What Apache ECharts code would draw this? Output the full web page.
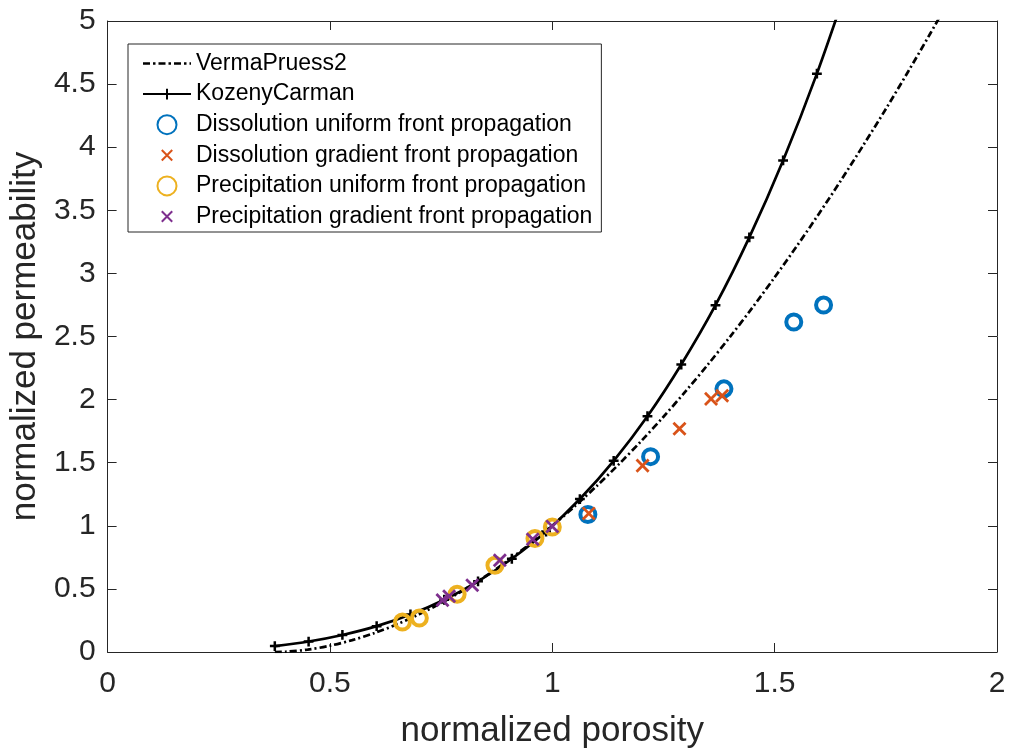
<!DOCTYPE html>
<html><head><meta charset="utf-8">
<script src="https://cdn.jsdelivr.net/npm/echarts@6/dist/echarts.min.js"></script>
<style>html,body{margin:0;padding:0;background:#fff}#c{width:1011px;height:754px}</style>
</head><body><div id="c"></div>
<script>
// ---- data ----
const xTicks = ['0', '0.5', '1', '1.5', '2'];
const yTicks = ['0', '0.5', '1', '1.5', '2', '2.5', '3', '3.5', '4', '4.5', '5'];

const vpPorosity = [0.376, 0.40, 0.45, 0.50, 0.55, 0.60, 0.65, 0.70, 0.75, 0.80, 0.85, 0.90, 0.95, 1.00, 1.05, 1.10, 1.15, 1.20, 1.25, 1.30, 1.35, 1.40, 1.45, 1.50, 1.55, 1.60, 1.65, 1.70, 1.75, 1.80, 1.85, 1.90];
const vpPerm     = [0.000, 0.002, 0.019, 0.050, 0.094, 0.150, 0.218, 0.298, 0.388, 0.489, 0.601, 0.724, 0.857, 1.000, 1.153, 1.316, 1.489, 1.672, 1.864, 2.067, 2.278, 2.499, 2.729, 2.969, 3.217, 3.475, 3.742, 4.019, 4.303, 4.598, 4.901, 5.213];

const kcPorosity = [0.376, 0.452, 0.528, 0.605, 0.681, 0.757, 0.833, 0.909, 0.986, 1.062, 1.138, 1.214, 1.290, 1.367, 1.443, 1.519, 1.595, 1.671];
const kcPerm     = [0.047, 0.083, 0.135, 0.205, 0.297, 0.414, 0.560, 0.739, 0.955, 1.212, 1.515, 1.868, 2.278, 2.748, 3.285, 3.895, 4.583, 5.357];

const dissUniX = [1.080, 1.221, 1.386, 1.543, 1.610];
const dissUniY = [1.090, 1.548, 2.085, 2.615, 2.749];

const dissGradX = [1.082, 1.203, 1.286, 1.357, 1.382];
const dissGradY = [1.098, 1.477, 1.769, 2.006, 2.030];

const precUniX = [0.663, 0.701, 0.786, 0.871, 0.961, 1.000];
const precUniY = [0.237, 0.269, 0.458, 0.687, 0.900, 0.990];

const precGradX = [0.753, 0.768, 0.820, 0.882, 0.956, 1.000];
const precGradY = [0.411, 0.442, 0.529, 0.727, 0.893, 0.995];

const names = ['VermaPruess2', 'KozenyCarman', 'Dissolution uniform front propagation',
  'Dissolution gradient front propagation', 'Precipitation uniform front propagation',
  'Precipitation gradient front propagation'];

// ---- chart ----
const zip = (a, b) => a.map((v, i) => [v, b[i]]);
const FONT = "'Liberation Sans', Arial, Helvetica, sans-serif";
const AX = '#262626';
const X_PATH = 'path://M0,0M20,20M4.5,4.5L15.5,15.5M15.5,4.5L4.5,15.5';
const PLUS_PATH = 'path://M0,0M20,20M10,3L10,17M3,10L17,10';
// dash-dot legend icon (filled pieces)
const DASHDOT_ICON = 'path://M0,0h7v2.6h-7zM10,0h2.5v2.6h-2.5zM15.5,0h7v2.6h-7zM25.5,0h2.5v2.6h-2.5zM31,0h7v2.6h-7zM41,0h2.5v2.6h-2.5zM46.5,0h1.5v2.6h-1.5z';

const chart = echarts.init(document.getElementById('c'), null, {renderer: 'canvas'});

function axis(extra) {
  return Object.assign({
    type: 'value',
    axisLine: {show: true, onZero: false, lineStyle: {color: AX, width: 1}},
    axisTick: {show: true, inside: true, length: 9, lineStyle: {color: AX, width: 1}},
    splitLine: {show: false}
  }, extra);
}

chart.setOption({
  animation: false,
  backgroundColor: '#fff',
  grid: {left: 104, top: 21, width: 893, height: 633, containLabel: false},
  xAxis: [
    axis({
      position: 'bottom', min: 0, max: 2, interval: 0.5,
      axisLabel: {color: AX, fontFamily: FONT, fontSize: 30, margin: 17,
        formatter: v => xTicks[Math.round(v / 0.5)]},
      name: 'normalized porosity', nameLocation: 'middle', nameGap: 62,
      nameTextStyle: {color: AX, fontFamily: FONT, fontSize: 35}
    }),
    axis({
      position: 'top', min: 0, max: 2, interval: 0.5,
      axisLabel: {show: false}
    })
  ],
  yAxis: [
    axis({
      position: 'left', min: 0, max: 5, interval: 0.5,
      axisLabel: {color: AX, fontFamily: FONT, fontSize: 30, margin: 12,
        formatter: v => yTicks[Math.round(v / 0.5)]},
      name: 'normalized permeability', nameLocation: 'middle', nameGap: 56,
      nameTextStyle: {color: AX, fontFamily: FONT, fontSize: 35}
    }),
    axis({
      position: 'right', min: 0, max: 5, interval: 0.5,
      axisLabel: {show: false}
    })
  ],
  legend: {
    show: true, orient: 'vertical', left: 128, top: 44,
    padding: [8, 9, 4, 14], itemGap: 7.6, itemWidth: 48, itemHeight: 19,
    borderColor: AX, borderWidth: 1, backgroundColor: '#fff',
    textStyle: {color: '#000', fontFamily: FONT, fontSize: 23, lineHeight: 22},
    data: [{name: names[0], icon: DASHDOT_ICON}, names[1], names[2], names[3], names[4], names[5]]
  },
  series: [
    {
      name: names[0], type: 'line', data: zip(vpPorosity, vpPerm),
      symbol: 'none', smooth: 0.3, clip: true,
      lineStyle: {color: '#000', width: 2.7, type: [7, 3, 2, 3]},
      itemStyle: {color: '#000'}, z: 2
    },
    {
      name: names[1], type: 'line', data: zip(kcPorosity, kcPerm),
      symbol: PLUS_PATH, symbolSize: 14, showAllSymbol: true, smooth: 0.3, clip: true,
      lineStyle: {color: '#000', width: 2.7},
      itemStyle: {color: '#000', borderColor: '#000', borderWidth: 2.5}, z: 3
    },
    {
      name: names[2], type: 'scatter', data: zip(dissUniX, dissUniY),
      symbol: 'circle', symbolSize: 15,
      itemStyle: {color: 'rgba(0,0,0,0)', borderColor: '#0072BD', borderWidth: 4, opacity: 1}, z: 4
    },
    {
      name: names[3], type: 'scatter', data: zip(dissGradX, dissGradY),
      symbol: X_PATH, symbolSize: 22,
      itemStyle: {color: 'rgba(0,0,0,0)', borderColor: '#D95319', borderWidth: 2.8, opacity: 1}, z: 5
    },
    {
      name: names[4], type: 'scatter', data: zip(precUniX, precUniY),
      symbol: 'circle', symbolSize: 15,
      itemStyle: {color: 'rgba(0,0,0,0)', borderColor: '#EDB120', borderWidth: 4, opacity: 1}, z: 6
    },
    {
      name: names[5], type: 'scatter', data: zip(precGradX, precGradY),
      symbol: X_PATH, symbolSize: 22,
      itemStyle: {color: 'rgba(0,0,0,0)', borderColor: '#7E2F8E', borderWidth: 2.8, opacity: 1}, z: 7
    }
  ]
});
</script>
</body></html>
